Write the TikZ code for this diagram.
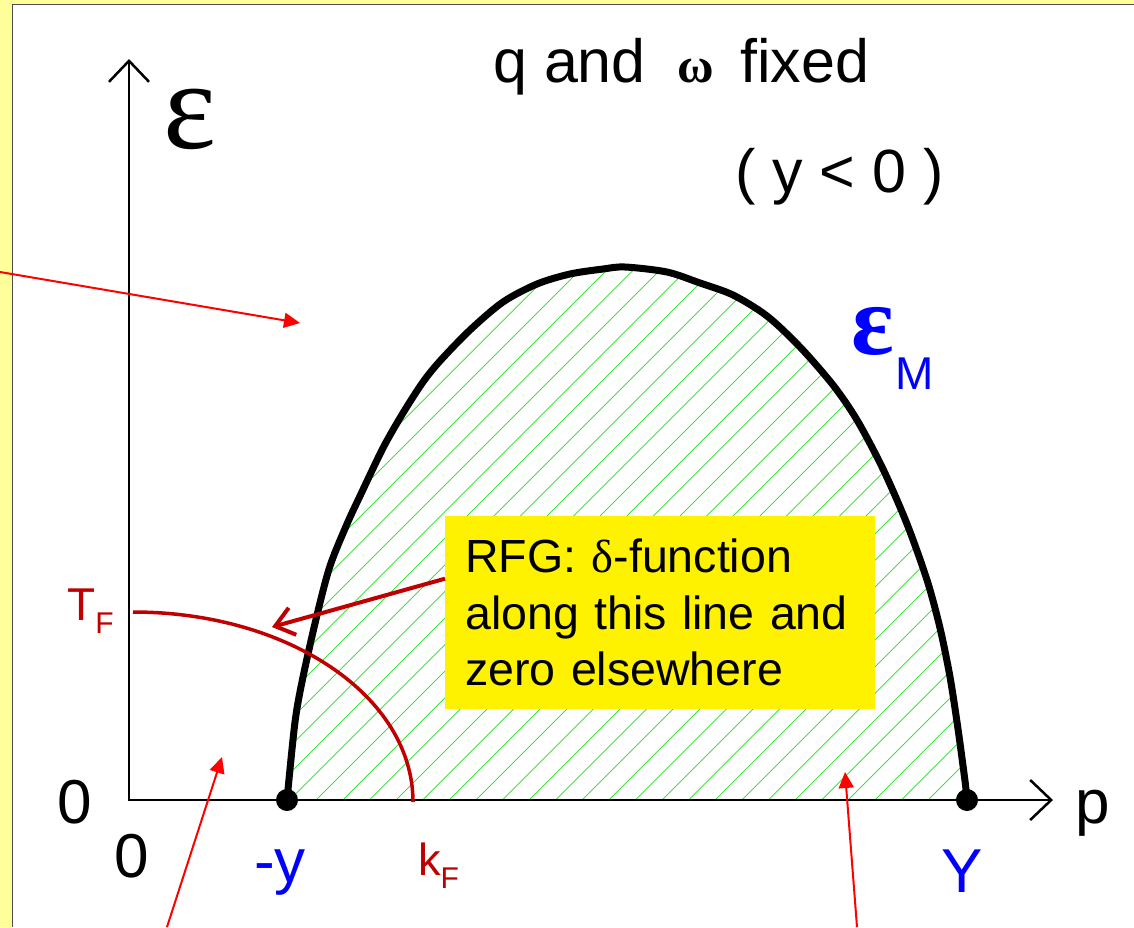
\documentclass[tikz,border=0pt]{standalone}
\usepackage{fontspec}
\setmainfont{Liberation Sans}
\newfontfamily\greekfont{Liberation Serif}
\usetikzlibrary{arrows.meta}
\definecolor{slidebg}{HTML}{FFFF99}
\definecolor{fermired}{HTML}{C00000}
\definecolor{hatchgreen}{HTML}{22E022}
\definecolor{notered}{HTML}{FF0000}
\newcommand{\fsz}[1]{\fontsize{#1}{#1}\selectfont}
\tikzset{
  axis/.style={line width=2.5pt,{Straight Barb[length=21pt,width=40pt]}-{Straight Barb[length=21pt,width=40pt]}},
  emax/.style={line width=7pt,line join=round},
  hatch/.style={hatchgreen,line width=0.7pt},
  fermi/.style={fermired,line width=3.5pt},
  callout/.style={fill=yellow,text width=390pt,inner xsep=20pt,inner ysep=23pt,align=left,font=\fontsize{46.5}{56.5}\selectfont},
  callarrow/.style={fermired,line width=4pt,-{Straight Barb[length=18pt,width=28pt]}},
  pointer/.style={notered,line width=2pt,-{Triangle[length=16pt,width=15pt]}},
  lbl/.style={inner sep=0pt},
}
\begin{document}
\begin{tikzpicture}[x=1pt,y=-1pt]
\useasboundingbox (0,0) rectangle (1134,927);
% slide background
\fill[slidebg] (0,0) rectangle (1134,927);
\fill[white] (12,4) rectangle (1134,927);
\draw[black!70,line width=1pt] (12,927) -- (12,4) -- (1134,4);

\coordinate (O) at (129,800);
\coordinate (ytip) at (129,59);
\coordinate (xtip) at (1053,800);
\coordinate (ylo) at (287,800);
\coordinate (yhi) at (967,800);
\coordinate (tf) at (133,612);
\coordinate (kf) at (413,802);

% hatched region below eps_M
\begin{scope}
\clip plot[smooth] coordinates {(287,800) (295,722) (303,677) (317,615) (330,566) (347,524) (360,496) (383,448) (403,413) (423,382) (440,361) (470,330) (503,302) (537,284) (570,274) (603,269) (625,267) (667,272) (700,283) (733,295) (767,316) (800,347) (833,385) (857,420) (883,469) (907,524) (927,580) (940,628) (950,677) (958,729) (965,781) (967,800)} -- cycle;
\foreach \k in {-40,...,7}
  \draw[hatch] ({795+26.6*\k-600},1400) -- ++(1200,-1200);
\end{scope}

\draw[axis] (ytip) -- (O) -- (xtip);
\draw[emax] plot[smooth] coordinates {(287,800) (295,722) (303,677) (317,615) (330,566) (347,524) (360,496) (383,448) (403,413) (423,382) (440,361) (470,330) (503,302) (537,284) (570,274) (603,269) (625,267) (667,272) (700,283) (733,295) (767,316) (800,347) (833,385) (857,420) (883,469) (907,524) (927,580) (940,628) (950,677) (958,729) (965,781) (967,800)};
\fill (ylo) circle[radius=11pt];
\fill (yhi) circle[radius=11pt];

% Fermi surface
\draw[fermi] (tf) .. controls (288,612) and (413,696) .. (kf);

% RFG note
\node[callout,anchor=north west] (rfg) at (445,516) {RFG: {\greekfont δ}-function\\along this line and\\zero elsewhere};
\coordinate (rfgtip) at (272,627);
\draw[callarrow] (rfg.171) -- (rfgtip);

% pointers from outside
\coordinate (inA) at (0,272);
\coordinate (tipA) at (300,323);
\coordinate (inB) at (167,927);
\coordinate (tipB) at (222,757);
\coordinate (inC) at (857,927);
\coordinate (tipC) at (845,772);
\draw[pointer] (inA) -- (tipA);
\draw[pointer] (inB) -- (tipB);
\draw[pointer] (inC) -- (tipC);

% labels
\node[lbl,anchor=base] (eps) at (190,148) {\greekfont\fsz{126}ε};
\node[lbl,anchor=base west] (qand) at (493,82) {\fsz{61}q and};
\node[lbl,anchor=base] (omega) at (696,82) {\greekfont\bfseries\fsz{50}ω};
\node[lbl,anchor=base west] (fixed) at (740,82) {\fsz{61}fixed};
\node[lbl,anchor=base west] (ysign) at (735,192) {\fsz{61}( y < 0 )};
\node[lbl,anchor=base,text=blue] (epsM) at (873,354) {\greekfont\bfseries\fsz{100}ε};
\node[lbl,anchor=base west,text=blue] (M) at (895,389) {\fsz{46}M};
\node[lbl,anchor=base west,text=fermired] (TF) at (67,620) {\fsz{46}T\raisebox{-13pt}{\fsz{30}F}};
\node[lbl,anchor=base west,text=fermired] (kF) at (418,875) {\fsz{45}k\raisebox{-13pt}{\fsz{30}F}};
\node[lbl,anchor=base] (zeroE) at (75,823) {\fsz{62}0};
\node[lbl,anchor=base] (zeroP) at (132,877) {\fsz{62}0};
\node[lbl,anchor=base west,text=blue] (minusy) at (254,882) {\fsz{62}-y};
\node[lbl,anchor=base,text=blue] (bigY) at (962,892) {\fsz{62}Y};
\node[lbl,anchor=base west] (p) at (1075,823) {\fsz{62}p};
\end{tikzpicture}
\end{document}
